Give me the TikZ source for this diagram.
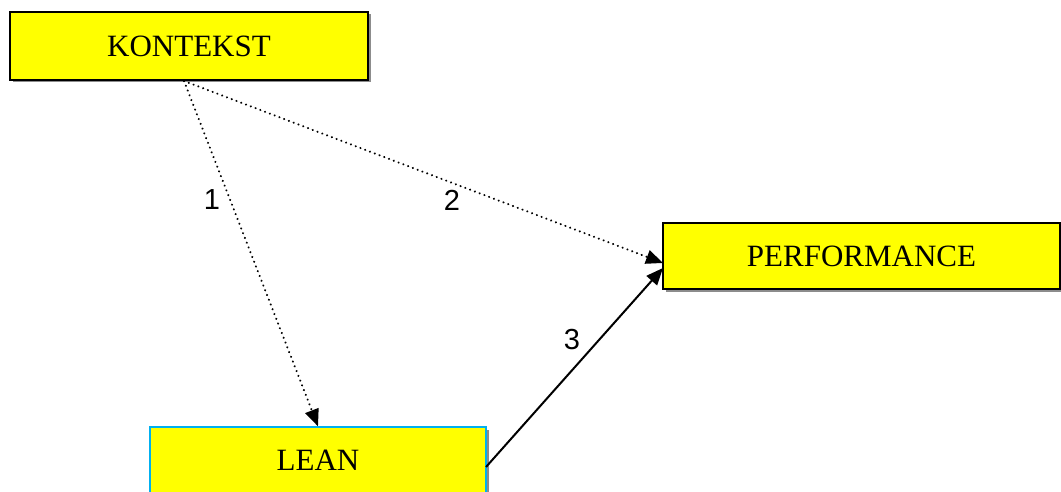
\documentclass[tikz,border=0pt]{standalone}
\usepackage{fontspec}
\setmainfont{Liberation Serif}
\newfontfamily\labfont{Liberation Sans}
\usetikzlibrary{arrows.meta,shadows}
\definecolor{boxyellow}{RGB}{255,255,0}
\definecolor{leanblue}{RGB}{0,176,240}
\tikzset{
  box/.style={draw=black, line width=1.3pt, fill=boxyellow, rectangle, inner sep=0pt,
    font=\fontsize{31}{36}\selectfont,
    drop shadow={shadow xshift=2.5pt, shadow yshift=-2.5pt, fill=black!45, opacity=1}},
  dotarrow/.style={line width=2.2pt, dash pattern=on 0.1pt off 5pt, line cap=round,
    -{Triangle[length=17pt,width=14pt,line cap=butt]}},
  solidarrow/.style={line width=2pt, -{Triangle[length=17pt,width=14pt]}},
  lab/.style={font=\labfont\fontsize{29}{33}\selectfont, inner sep=0pt}
}
\begin{document}
\begin{tikzpicture}[x=1pt,y=-1pt]
\useasboundingbox (0,0) rectangle (1061,492);
\clip (0,0) rectangle (1061,492);
\node[box, minimum width=358pt, minimum height=68pt] (kon) at (189,46) {KONTEKST};
\node[box, minimum width=397pt, minimum height=66pt] (perf) at (861.5,256) {PERFORMANCE};
\node[box, draw=leanblue, minimum width=336pt, minimum height=66pt] (lean) at (318,460) {LEAN};
\coordinate (ks) at (184,81);
\coordinate (pw1) at (663,263);
\coordinate (pw2) at (663,268);
\coordinate (le) at (486,467);
\draw[dotarrow] (ks) -- (lean.north);
\draw[dotarrow] (ks) -- (pw1);
\draw[solidarrow] (le) -- (pw2);
\node[lab] (l1) at (212,200) {1};
\node[lab] (l2) at (452,200) {2};
\node[lab] (l3) at (572,340) {3};
\end{tikzpicture}
\end{document}
